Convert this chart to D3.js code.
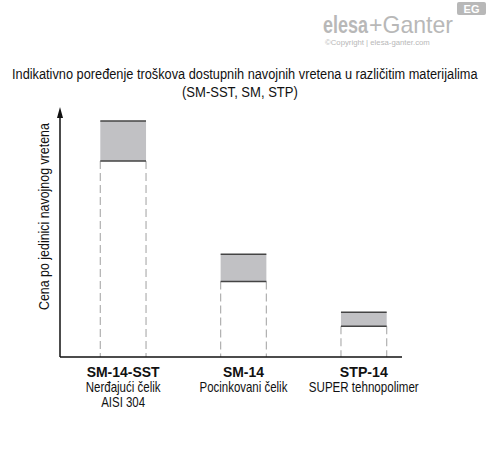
<!DOCTYPE html>
<html>
<head>
<meta charset="utf-8">
<script src="https://cdn.jsdelivr.net/npm/d3@7"></script>
<style>
  body { margin: 0; background: #fff; }
  svg { display: block; }
</style>
</head>
<body>
<script>
// price ranges, in relative units (highest = 100)
var codes = ["SM-14-SST", "SM-14", "STP-14"];
var materials = [["Nerđajući čelik", "AISI 304"], ["Pocinkovani čelik"], ["SUPER tehnopolimer"]];
var costLow = [83, 32, 13];
var costHigh = [100, 43.5, 19];

// widths the labels take in the reference (narrow font)
var codeWidths = [73, 41, 48];
var materialWidths = [[75, 44], [88], [110]];

var width = 488, height = 454;
var font = "'Liberation Sans', Arial, sans-serif";

var svg = d3.select("body").append("svg")
    .attr("width", width)
    .attr("height", height);

// no narrow font installed: squeeze text horizontally to a given width
function narrow(sel, x, y, len, rot) {
    var w = sel.node().getComputedTextLength();
    sel.attr("transform", "translate(" + x + "," + y + ")" + (rot ? " rotate(" + rot + ")" : "") +
        " scale(" + (len / w) + ",1)");
}

// logo
var logo = svg.append("g").attr("fill", "#b8b8b8").style("font-family", font);
logo.append("text")
    .style("font-size", "24px").style("font-weight", "bold")
    .text("elesa")
    .call(narrow, 323, 33, 45);
logo.append("text")
    .style("font-size", "23px")
    .text("+Ganter")
    .call(narrow, 369, 33, 84);
logo.append("text")
    .style("font-size", "8px")
    .text("©Copyright | elesa-ganter.com")
    .call(narrow, 325, 45, 105);
logo.append("rect").attr("x", 457).attr("y", 2).attr("width", 29).attr("height", 13).attr("rx", 2);
logo.append("text").attr("x", 471.5).attr("y", 13).attr("text-anchor", "middle")
    .attr("fill", "#fff").style("font-size", "11px").style("font-weight", "bold")
    .text("EG");

// title
var title = svg.append("g")
    .style("font-family", font)
    .style("font-size", "14px")
    .attr("fill", "#111");
title.append("text")
    .text("Indikativno poređenje troškova dostupnih navojnih vretena u različitim materijalima")
    .call(narrow, 12, 79, 466);
title.append("text")
    .text("(SM-SST, SM, STP)")
    .call(narrow, 182, 97, 116);

var x = d3.scaleBand()
    .domain(codes)
    .range([63, 424])
    .paddingInner(0.62)
    .paddingOuter(0.31);

var y = d3.scaleLinear()
    .domain([0, 100])
    .range([357, 121]);

var bars = svg.append("g").selectAll("g")
    .data(codes)
    .enter().append("g");

// shaded range
bars.append("rect")
    .attr("x", function(d) { return x(d); })
    .attr("width", x.bandwidth())
    .attr("y", function(d, i) { return y(costHigh[i]); })
    .attr("height", function(d, i) { return y(costLow[i]) - y(costHigh[i]); })
    .attr("fill", "#c1c1c4");

// dashed sides
bars.selectAll("line.side")
    .data(function(d, i) { return [{x: x(d), i: i}, {x: x(d) + x.bandwidth(), i: i}]; })
    .enter().append("line")
    .attr("class", "side")
    .attr("x1", function(d) { return d.x; })
    .attr("x2", function(d) { return d.x; })
    .attr("y1", function(d) { return y(costLow[d.i]); })
    .attr("y2", y(0))
    .attr("stroke", "#b0b0b0")
    .attr("stroke-width", 1.2)
    .attr("stroke-dasharray", "8,4");

bars.append("line")
    .attr("x1", function(d) { return x(d); })
    .attr("x2", function(d) { return x(d) + x.bandwidth(); })
    .attr("y1", function(d, i) { return y(costHigh[i]); })
    .attr("y2", function(d, i) { return y(costHigh[i]); })
    .attr("stroke", "#444").attr("stroke-width", 1.5);

bars.append("line")
    .attr("x1", function(d) { return x(d); })
    .attr("x2", function(d) { return x(d) + x.bandwidth(); })
    .attr("y1", function(d, i) { return y(costLow[i]); })
    .attr("y2", function(d, i) { return y(costLow[i]); })
    .attr("stroke", "#444").attr("stroke-width", 1.5);

// axes
svg.append("line")
    .attr("x1", 60).attr("x2", 402)
    .attr("y1", y(0)).attr("y2", y(0))
    .attr("stroke", "#111").attr("stroke-width", 1.5);

svg.append("line")
    .attr("x1", 60).attr("x2", 60)
    .attr("y1", y(0)).attr("y2", 114)
    .attr("stroke", "#111").attr("stroke-width", 1.5);

svg.append("path")
    .attr("d", "M60,107 L57,118 L63,118 Z")
    .attr("fill", "#111");

svg.append("text")
    .style("font-family", font)
    .style("font-size", "14px")
    .attr("fill", "#111")
    .text("Cena po jedinici navojnog vretena")
    .call(narrow, 49, 310, 187, -90);

// category labels
var labels = svg.append("g")
    .style("font-family", font)
    .attr("fill", "#111")
    .selectAll("g")
    .data(codes)
    .enter().append("g");

labels.each(function(d, i) {
    var g = d3.select(this);
    var cx = x(d) + x.bandwidth() / 2;
    g.append("text")
        .style("font-weight", "bold")
        .style("font-size", "15px")
        .text(d)
        .call(narrow, cx - codeWidths[i] / 2, 377, codeWidths[i]);
    materials[i].forEach(function(m, k) {
        g.append("text")
            .style("font-size", "14px")
            .text(m)
            .call(narrow, cx - materialWidths[i][k] / 2, 392 + k * 15, materialWidths[i][k]);
    });
});
</script>
</body>
</html>
